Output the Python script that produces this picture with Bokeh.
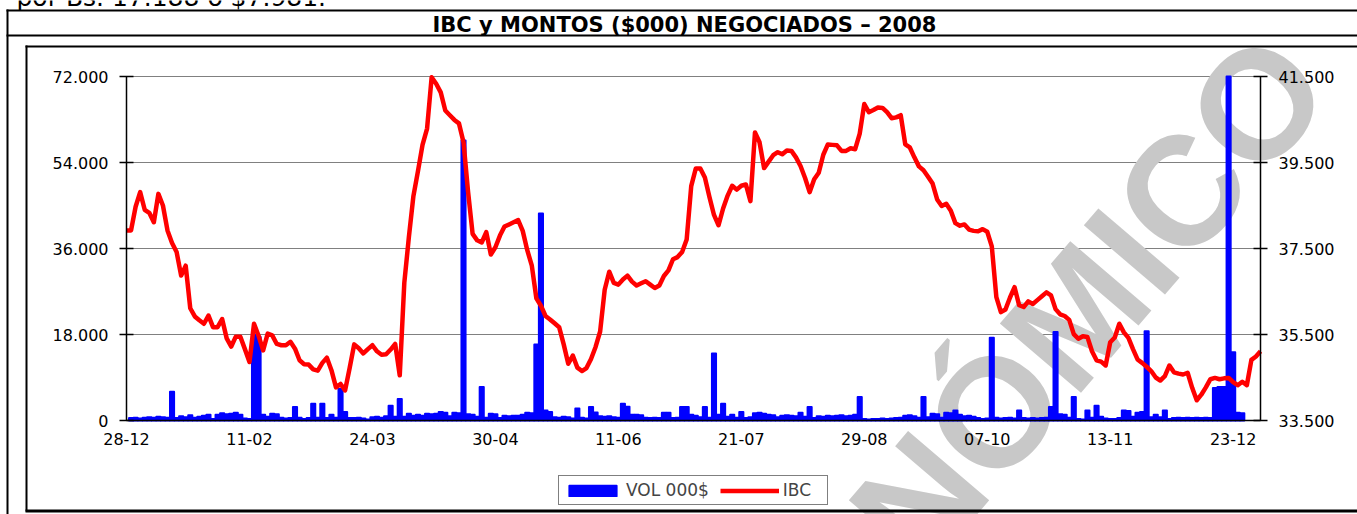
from bokeh.plotting import figure
from bokeh.models import (Range1d, LinearAxis, FixedTicker, Label, BoxAnnotation,
                          Legend, LegendItem, ColumnDataSource)
from bokeh.embed import file_html
from bokeh.resources import INLINE

# ---------------- data ----------------
ibc = [
    37920, 37920, 38470, 38810, 38400, 38330, 38110, 38770, 38500, 37920,
    37630, 37420, 36870, 37100, 36110, 35920, 35830, 35750, 35940, 35670,
    35670, 35860, 35410, 35220, 35450, 35450, 35160, 34860, 35750, 35470,
    35130, 35520, 35480, 35280, 35250, 35250, 35330, 35170, 34900, 34810,
    34800, 34690, 34660, 34840, 34960, 34670, 34270, 34350, 34200, 34720,
    35270, 35180, 35060, 35160, 35250, 35110, 35030, 35040, 35150, 35280,
    34550, 36700, 37760, 38720, 39300, 39910, 40290, 41480, 41330, 41130,
    40710, 40600, 40490, 40410, 39970, 38820, 37840, 37690, 37640, 37880,
    37360, 37530, 37800, 38010, 38060, 38110, 38160, 37910, 37460, 37100,
    36340, 36170, 35930, 35850, 35760, 35670, 35270, 34820, 35010, 34730,
    34650, 34720, 34930, 35210, 35570, 36540, 36960, 36700, 36660, 36780,
    36870, 36730, 36640, 36690, 36740, 36660, 36580, 36640, 36860, 36990,
    37250, 37300, 37420, 37710, 38950, 39360, 39360, 39150, 38700, 38280,
    38040, 38430, 38730, 38960, 38870, 38960, 38990, 38600, 40200, 39970,
    39370, 39520, 39670, 39740, 39690, 39780, 39770, 39620, 39420, 39140,
    38810, 39110, 39260, 39680, 39920, 39910, 39900, 39770, 39770, 39830,
    39810, 40170, 40860, 40670, 40720, 40780, 40770, 40670, 40530, 40550,
    40600, 39920, 39850, 39620, 39410, 39320, 39170, 39010, 38640, 38490,
    38540, 38380, 38090, 38030, 38060, 37940, 37910, 37900, 37950, 37890,
    37550, 36370, 36020, 36080, 36360, 36600, 36180, 36140, 36270, 36210,
    36300, 36390, 36480, 36410, 36090, 35970, 35930, 35840, 35510, 35400,
    35460, 35440, 35110, 34900, 34870, 34780, 35320, 35430, 35750, 35550,
    35420, 35160, 34920, 34840, 34750, 34650, 34500, 34430, 34530, 34780,
    34620, 34590, 34570, 34610, 34260, 33970, 34100, 34270, 34460, 34490,
    34460, 34480, 34490, 34390, 34320, 34400, 34320, 34910, 34990, 35110,
]

vol = [
    0, 500, 600, 400, 600, 700, 600, 800, 700, 600,
    6000, 500, 900, 700, 1100, 600, 800, 1000, 1200, 300,
    1200, 1500, 1300, 1400, 1600, 1200, 400, 300, 18000, 17500,
    1200, 800, 1400, 1300, 600, 400, 500, 2800, 600, 300,
    500, 3500, 600, 3500, 500, 1200, 600, 6600, 1800, 500,
    500, 600, 400, 200, 700, 800, 600, 900, 3100, 800,
    4500, 800, 1400, 1000, 1200, 1000, 1400, 1300, 1400, 1800,
    1600, 900, 1600, 1500, 58600, 1300, 1200, 800, 7000, 600,
    1400, 1300, 500, 1000, 900, 1000, 1000, 1200, 1600, 1500,
    15900, 43300, 2100, 1800, 700, 600, 800, 700, 400, 2500,
    600, 400, 2800, 1700, 900, 800, 900, 700, 600, 3500,
    2900, 1200, 1200, 1100, 600, 500, 600, 500, 1600, 1600,
    500, 600, 2800, 2800, 1200, 1000, 700, 2800, 600, 14000,
    1200, 3500, 800, 1200, 600, 1800, 500, 700, 1500, 1600,
    1400, 1200, 1100, 700, 1000, 1100, 1000, 900, 1600, 800,
    2800, 500, 900, 800, 1000, 900, 1000, 1100, 900, 1000,
    1200, 4900, 300, 200, 300, 300, 400, 300, 400, 500,
    600, 1000, 1100, 900, 600, 4900, 700, 1400, 1300, 600,
    1600, 1500, 2100, 1200, 900, 1000, 800, 500, 300, 400,
    17300, 600, 400, 500, 600, 400, 2100, 500, 400, 500,
    400, 500, 600, 2800, 18500, 1300, 1200, 600, 4900, 300,
    200, 2100, 600, 3100, 800, 400, 300, 300, 500, 2100,
    2000, 800, 1600, 1800, 18700, 700, 1200, 700, 2100, 300,
    500, 600, 500, 600, 500, 600, 500, 600, 500, 6800,
    7000, 7000, 72000, 14300, 1600, 1500, 0, 0, 0, 0,
]

tick_idx = [0, 27, 54, 81, 108, 135, 162, 189, 216, 243]
tick_labels = ["28-12", "11-02", "24-03", "30-04", "11-06",
               "21-07", "29-08", "07-10", "13-11", "23-12"]
vol_ticks = [0, 18000, 36000, 54000, 72000]
vol_tick_labels = ["0", "18.000", "36.000", "54.000", "72.000"]
ibc_ticks = [33500, 35500, 37500, 39500, 41500]
ibc_tick_labels = ["33.500", "35.500", "37.500", "39.500", "41.500"]

title_text = "IBC y MONTOS ($000) NEGOCIADOS \u2013 2008"
top_text = "por Bs. 17.188 \u00f3 $7.981."
watermark_text = "N\u00d3MICO"

# ---------------- layout ----------------
W, H = 1357, 514
PL, PR, PT, PB = 126, 1260, 76, 420   # plot-area edges, page pixels
FONT = "DejaVu Sans"

n = len(ibc)
idx = list(range(n))
vmin, vmax = vol_ticks[0], vol_ticks[-1]
imin, imax = ibc_ticks[0], ibc_ticks[-1]

# frame covers the whole canvas; ranges extended so that the plot area sits at PL..PR / PT..PB
kx = (PR - PL) / (n - 1)
kv = (PB - PT) / (vmax - vmin)
ki = (PB - PT) / (imax - imin)
x_rng = Range1d(0 - PL / kx, (n - 1) + (W - PR) / kx)
v_rng = Range1d(vmin - (H - PB) / kv, vmax + PT / kv)
i_rng = Range1d(imin - (H - PB) / ki, imax + PT / ki)

p = figure(width=W, height=H, x_range=x_rng, y_range=v_rng,
           output_backend="svg", toolbar_location=None, title=None,
           x_axis_type=None, y_axis_type=None,
           min_border_left=0, min_border_right=0, min_border_top=0, min_border_bottom=0)
p.background_fill_color = "white"
p.border_fill_color = "white"
p.outline_line_color = None
p.extra_y_ranges = {"ibc": i_rng}


def sy(y):  # page y -> screen y (from bottom)
    return H - y


# watermark (behind the data)
p.add_layout(Label(x=1089, y=sy(300), x_units="screen", y_units="screen",
                   text=watermark_text, angle=49.5, angle_units="deg",
                   text_font="Liberation Sans", text_font_style="bold",
                   text_font_size="155px", text_color="#C8C8C8",
                   text_align="center", text_baseline="middle", level="underlay"))

# horizontal gridlines at the volume ticks
gt = [t for t in vol_ticks if t > vmin]
p.segment(x0=[0] * len(gt), x1=[n - 1] * len(gt), y0=gt, y1=gt,
          line_color="#808080", line_width=1, level="underlay")

# bars
bx = [i for i, v in zip(idx, vol) if v > 0]
bv = [v for v in vol if v > 0]
bsrc = ColumnDataSource(dict(x=bx, top=bv))
bars = p.vbar(x="x", top="top", width=0.9, source=bsrc,
              fill_color="#0000FF", line_color="#0000FF", line_width=2,
              line_join="round")

# IBC line
lsrc = ColumnDataSource(dict(x=idx, y=ibc))
line = p.line(x="x", y="y", source=lsrc, y_range_name="ibc",
              line_color="#FF0000", line_width=4.5, line_join="round")


# axes (pinned at the plot-area edges)
def style_axis(ax):
    ax.major_label_text_font = FONT
    ax.major_label_text_font_size = "16px"
    ax.major_label_text_color = "black"
    ax.axis_line_color = "black"
    ax.axis_line_width = 1.5
    ax.major_tick_line_color = "black"
    ax.major_tick_line_width = 1.5
    ax.minor_tick_line_color = None


xaxis = LinearAxis(ticker=FixedTicker(ticks=tick_idx, minor_ticks=[]),
                   major_label_overrides={t: l for t, l in zip(tick_idx, tick_labels)},
                   fixed_location=vmin, bounds=(0, n - 1))
style_axis(xaxis)
xaxis.major_tick_in = 0
xaxis.major_tick_out = 0
xaxis.major_label_standoff = 12
p.add_layout(xaxis, "below")

yl = LinearAxis(ticker=FixedTicker(ticks=vol_ticks, minor_ticks=[]),
                major_label_overrides={t: l for t, l in zip(vol_ticks, vol_tick_labels)},
                fixed_location=0, bounds=(vmin, vmax))
style_axis(yl)
yl.major_tick_in = 7
yl.major_tick_out = 7
yl.major_label_standoff = 11
p.add_layout(yl, "left")

yr = LinearAxis(y_range_name="ibc",
                ticker=FixedTicker(ticks=ibc_ticks, minor_ticks=[]),
                major_label_overrides={t: l for t, l in zip(ibc_ticks, ibc_tick_labels)},
                fixed_location=n - 1, bounds=(imin, imax))
style_axis(yr)
yr.major_tick_in = 7
yr.major_tick_out = 7
yr.major_label_standoff = 11
p.add_layout(yr, "right")

# legend
legend = Legend(items=[LegendItem(label="VOL 000$", renderers=[bars]),
                       LegendItem(label="IBC", renderers=[line])],
                location=(558, sy(505)), orientation="horizontal",
                glyph_width=59, glyph_height=13, label_standoff=4, spacing=11,
                padding=4, margin=0, label_width=40,
                border_line_color="black", border_line_width=1,
                label_text_font=FONT, label_text_font_size="17px",
                background_fill_color="white", background_fill_alpha=1)
p.add_layout(legend)

# title and cut-off text above
p.add_layout(Label(x=684, y=sy(24), x_units="screen", y_units="screen",
                   text=title_text, text_font=FONT, text_font_style="bold",
                   text_font_size="21px", text_align="center", text_baseline="middle",
                   text_color="black"))
p.add_layout(Label(x=16, y=sy(-3), x_units="screen", y_units="screen",
                   text=top_text, text_font=FONT, text_font_size="25px",
                   text_align="left", text_baseline="middle", text_color="black"))


# frame / border lines (page coordinates)
def rule(x0, x1, y0, y1):
    p.add_layout(BoxAnnotation(left=x0, right=x1, top=sy(y0), bottom=sy(y1),
                               left_units="screen", right_units="screen",
                               top_units="screen", bottom_units="screen",
                               fill_color="black", fill_alpha=1, line_color=None,
                               level="overlay"))


rule(6, W, 9, 11)      # outer top
rule(6, W, 34, 36)     # title band bottom
rule(6, 8, 9, H)       # outer left
rule(25, 27, 45, 511)  # inner left
rule(25, W, 45, 47)    # inner top
rule(25, W, 509, 512)  # inner bottom

open("out.html", "w").write(file_html(p, INLINE))
